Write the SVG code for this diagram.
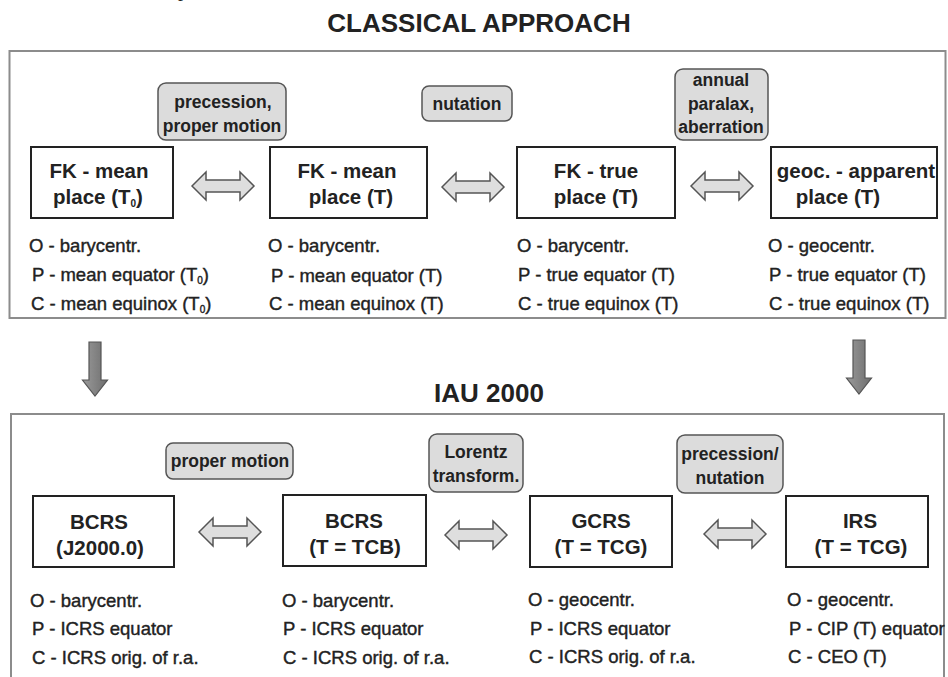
<svg xmlns="http://www.w3.org/2000/svg" width="948" height="677" viewBox="0 0 948 677">
<defs>
<style>
.frame{fill:none;stroke:#8c8c8c;stroke-width:2}
.node{fill:#fff;stroke:#222;stroke-width:2}
.lab{fill:#dcdcdc;stroke:#555;stroke-width:1.5}
.title{font-family:"Liberation Sans",Arial,sans-serif;font-weight:bold;font-size:26px;fill:#222;text-anchor:middle}
.nt{font-family:"Liberation Sans",Arial,sans-serif;font-weight:bold;font-size:20.5px;fill:#222;text-anchor:middle}
.lt{font-family:"Liberation Sans",Arial,sans-serif;font-weight:bold;font-size:17.5px;fill:#222;text-anchor:middle}
.st{font-family:"Liberation Sans",Arial,sans-serif;font-size:18.5px;fill:#222;stroke:#222;stroke-width:0.4}
.sub{font-size:10px}
.dbl{fill:#dedede;stroke:#555;stroke-width:1.5}
.down{fill:url(#g);stroke:#555;stroke-width:1.2}
</style>
<linearGradient id="g" x1="0" y1="0" x2="1" y2="0">
<stop offset="0" stop-color="#9a9a9a"/>
<stop offset="1" stop-color="#6e6e6e"/>
</linearGradient>
<path id="dblarrow" class="dbl" d="M-31,0 L-17,-14 L-17,-6 L17,-6 L17,-14 L31,0 L17,14 L17,6 L-17,6 L-17,14 Z"/>
<path id="downarrow" class="down" d="M-6,0 L6,0 L6,38 L12.5,38 L0,54 L-12.5,38 L-6,38 Z"/>
</defs>
<rect width="948" height="677" fill="#fff"/>
<text x="178" y="-4" font-family="Liberation Serif,serif" font-size="20" fill="#222">p</text>

<text class="title" x="479" y="32">CLASSICAL APPROACH</text>
<rect class="frame" x="9.5" y="51" width="936" height="267"/>
<text class="title" x="489" y="402">IAU 2000</text>
<rect class="frame" x="11" y="414" width="933" height="300"/>

<g id="connectors">
<use href="#dblarrow" x="223" y="186"/>
<use href="#dblarrow" x="473" y="187"/>
<use href="#dblarrow" x="722" y="186"/>
<use href="#dblarrow" x="230" y="532"/>
<use href="#dblarrow" x="476" y="535"/>
<use href="#dblarrow" x="735" y="534"/>
<use href="#downarrow" x="95" y="342"/>
<use href="#downarrow" x="859" y="340"/>
</g>

<g id="lab-precession-proper">
<rect class="lab" x="158" y="83" width="128" height="57" rx="8"/>
<text class="lt" x="223" y="108">precession,</text>
<text class="lt" x="222" y="132">proper motion</text>
</g>
<g id="lab-nutation">
<rect class="lab" x="422" y="86" width="90" height="35" rx="7"/>
<text class="lt" x="467" y="110">nutation</text>
</g>
<g id="lab-annual">
<rect class="lab" x="675" y="69" width="93" height="71" rx="8"/>
<text class="lt" x="721" y="86">annual</text>
<text class="lt" x="721" y="110">paralax,</text>
<text class="lt" x="721" y="133">aberration</text>
</g>

<g id="node-fk-mean-t0">
<rect class="node" x="31" y="147" width="142" height="71"/>
<text class="nt" x="99" y="178">FK - mean</text>
<text class="nt" x="98" y="204">place (T<tspan class="sub" dy="3">0</tspan><tspan dy="-3">)</tspan></text>
<text class="st" x="29" y="252">O - barycentr.</text>
<text class="st" x="32" y="281">P - mean equator (T<tspan class="sub" dy="3">0</tspan><tspan dy="-3">)</tspan></text>
<text class="st" x="31" y="310">C - mean equinox (T<tspan class="sub" dy="3">0</tspan><tspan dy="-3">)</tspan></text>
</g>
<g id="node-fk-mean-t">
<rect class="node" x="270" y="147" width="157" height="71"/>
<text class="nt" x="347" y="178">FK - mean</text>
<text class="nt" x="351" y="204">place (T)</text>
<text class="st" x="268" y="252">O - barycentr.</text>
<text class="st" x="271" y="282">P - mean equator (T)</text>
<text class="st" x="269" y="310">C - mean equinox (T)</text>
</g>
<g id="node-fk-true">
<rect class="node" x="517" y="147" width="158" height="71"/>
<text class="nt" x="596" y="178">FK - true</text>
<text class="nt" x="596" y="204">place (T)</text>
<text class="st" x="517" y="252">O - barycentr.</text>
<text class="st" x="518" y="281">P - true equator (T)</text>
<text class="st" x="518" y="310">C - true equinox (T)</text>
</g>
<g id="node-geoc-apparent">
<rect class="node" x="771" y="147" width="166" height="71"/>
<text class="nt" x="856" y="178">geoc. - apparent</text>
<text class="nt" x="838" y="204">place (T)</text>
<text class="st" x="768" y="252">O - geocentr.</text>
<text class="st" x="769" y="281">P - true equator (T)</text>
<text class="st" x="769" y="310">C - true equinox (T)</text>
</g>

<g id="lab-proper-motion">
<rect class="lab" x="166" y="443" width="127" height="36" rx="7"/>
<text class="lt" x="230" y="467">proper motion</text>
</g>
<g id="lab-lorentz">
<rect class="lab" x="429" y="434" width="94" height="58" rx="8"/>
<text class="lt" x="476" y="458">Lorentz</text>
<text class="lt" x="476" y="482">transform.</text>
</g>
<g id="lab-prec-nut">
<rect class="lab" x="677" y="435" width="106" height="58" rx="8"/>
<text class="lt" x="730" y="460">precession/</text>
<text class="lt" x="730" y="484">nutation</text>
</g>

<g id="node-bcrs-j2000">
<rect class="node" x="33" y="496" width="141" height="71"/>
<text class="nt" x="99" y="529">BCRS</text>
<text class="nt" x="100" y="555">(J2000.0)</text>
<text class="st" x="30" y="607">O - barycentr.</text>
<text class="st" x="32" y="635">P - ICRS equator</text>
<text class="st" x="32" y="664">C - ICRS orig. of r.a.</text>
</g>
<g id="node-bcrs-tcb">
<rect class="node" x="283" y="495" width="143" height="71"/>
<text class="nt" x="354" y="528">BCRS</text>
<text class="nt" x="355" y="554">(T = TCB)</text>
<text class="st" x="282" y="607">O - barycentr.</text>
<text class="st" x="283" y="635">P - ICRS equator</text>
<text class="st" x="283" y="664">C - ICRS orig. of r.a.</text>
</g>
<g id="node-gcrs">
<rect class="node" x="530" y="496" width="142" height="71"/>
<text class="nt" x="601" y="528">GCRS</text>
<text class="nt" x="601" y="554">(T = TCG)</text>
<text class="st" x="528" y="606">O - geocentr.</text>
<text class="st" x="530" y="635">P - ICRS equator</text>
<text class="st" x="529" y="663">C - ICRS orig. of r.a.</text>
</g>
<g id="node-irs">
<rect class="node" x="786" y="496" width="142" height="71"/>
<text class="nt" x="860" y="528">IRS</text>
<text class="nt" x="861" y="554">(T = TCG)</text>
<text class="st" x="787" y="606">O - geocentr.</text>
<text class="st" x="789" y="635">P - CIP (T) equator</text>
<text class="st" x="788" y="663">C - CEO (T)</text>
</g>
</svg>
